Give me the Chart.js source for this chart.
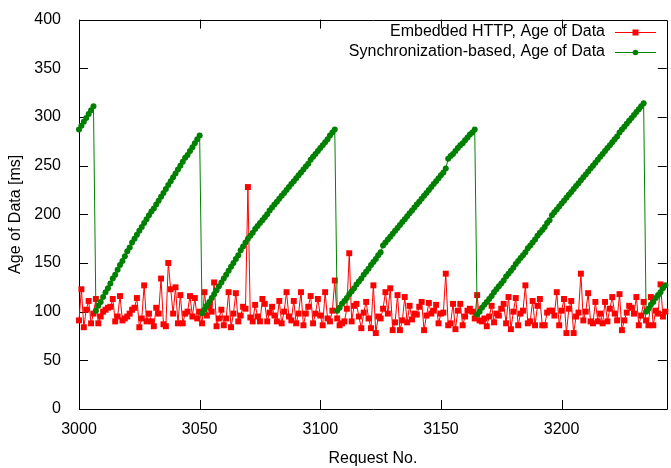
<!DOCTYPE html>
<html>
<head>
<meta charset="utf-8">
<script src="https://cdn.jsdelivr.net/npm/chart.js@4/dist/chart.umd.min.js"></script>
<style>
    html, body { margin: 0; padding: 0; background: #fff; }
    #wrap { width: 671px; height: 468px; }
</style>
</head>
<body>
<div id="wrap"><canvas id="myChart" width="671" height="468"></canvas></div>
<script>
const firstRequest = 3000;
const lastRequest = 3243.6;

const xTicks = [3000, 3050, 3100, 3150, 3200];
const yTicks = [0, 50, 100, 150, 200, 250, 300, 350, 400];

const seriesNames = ['Embedded HTTP, Age of Data', 'Synchronization-based, Age of Data'];

// one value per request, starting at 3000
const embeddedHttp = [
    91, 123, 84, 102, 111, 88, 98, 113, 88, 95, 100, 102, 104, 105, 113, 90, 95, 116, 91, 93,
    95, 98, 102, 104, 114, 84, 93, 127, 90, 98, 90, 85, 104, 98, 134, 87, 85, 150, 123, 98,
    125, 88,
    117, 88, 98, 100, 116, 95, 114, 93, 100, 88, 120, 96, 105, 100, 130, 85, 93, 102, 86, 93,
    120, 84, 98, 119, 90, 96, 105,
    103, 228,
    94, 90, 107, 95, 90, 113, 108, 90, 99, 105, 96, 90,
    111, 88, 100, 120, 95, 91, 111, 88, 98, 120, 86, 98, 105, 116, 88, 98, 113, 96, 86, 120,
    93, 90, 101, 132, 93, 86, 88, 90, 103, 160, 90, 106, 108, 95, 83, 99, 110, 93, 83, 127,
    78, 95, 93, 103, 120,
    98, 124, 81, 89, 117, 81, 91, 115, 89, 106, 92, 98, 97, 105, 110, 81, 96, 109, 98, 101,
    107, 88, 98, 99, 139, 86, 88, 108, 82, 101, 108, 86, 95, 101, 103, 100, 93, 117, 91, 90,
    93, 85, 95,
    106, 89, 98, 96, 103, 108, 88, 115, 82, 100, 114, 86, 98, 101, 127, 88, 90, 111, 86, 106,
    113, 86, 86, 99, 101, 101, 96, 120, 86, 101, 113, 78, 103, 111, 78, 95, 99, 139,
    91, 100, 119, 90, 88, 110, 90, 98, 88, 110, 90, 103, 115, 98, 91, 118, 81, 91, 99, 106,
    104, 98, 115, 86, 96, 110, 91, 86, 115, 86, 101, 98, 128, 95, 100
];

const syncBased = [
    // 3000-3006
    287, 291, 295, 299, 303, 307, 311,
    // 3007-3050
    101, 106, 110, 115, 120, 124, 129, 134, 138, 143, 148, 152, 157, 162, 166, 171,
    175, 179, 183, 187, 191, 195, 199, 203, 206, 210, 214, 218, 222, 226, 230, 234,
    238, 242, 246, 250, 254, 258, 261, 265, 269, 273, 277, 281,
    // 3051-3106
    98, 102, 106, 110, 114, 118, 122, 126, 130, 134, 138, 142, 146, 150, 154,
    158, 163, 167, 171, 175,
    178, 181, 185, 188, 191, 194, 197, 200, 204, 207, 210, 213, 216,
    219, 222, 225, 228, 231, 234, 237, 240,
    243, 246, 249, 252, 256, 259, 262, 265, 268,
    271, 274, 277, 281, 284, 287,
    // 3107-3164
    101, 104, 108, 111, 114, 118, 121, 124, 128, 131, 134, 138, 141, 144, 148, 151, 154, 158, 161,
    168, 171, 174, 177, 180, 183, 186, 189, 192, 195, 198, 201, 204, 207, 210, 213, 216, 219,
    222, 225, 228, 231, 234, 237, 240, 243, 247,
    257, 260, 262, 265, 268, 271, 273, 276, 279, 282, 284, 287,
    // 3165-3234
    97, 100, 104, 107, 110, 113, 116, 120, 123, 126, 129, 132, 136, 139, 142, 145, 149, 152,
    155, 158, 161, 165, 168, 171, 174, 178, 181, 184, 187, 191, 194,
    199, 202, 205, 208, 211, 214, 217, 220, 223, 226, 229, 232, 235, 238, 241, 244, 247, 250,
    253, 256, 259, 262, 265, 268, 271, 274, 277, 280, 284, 287, 290, 293, 296, 299, 302, 305,
    308, 311, 314,
    // 3235-3243
    100, 103, 107, 110, 114, 117, 120, 124, 127
];

const toPoints = arr => arr.map((v, i) => ({ x: firstRequest + i, y: v }));

const fontFamily = '"Liberation Sans", Arial, sans-serif';
Chart.defaults.font.family = fontFamily;
Chart.defaults.font.size = 16;
Chart.defaults.color = '#000';

// gnuplot style border with inward ticks
const framePlugin = {
    id: 'frame',
    beforeDatasetsDraw(chart) {
        const { ctx, chartArea: a, scales } = chart;
        ctx.save();
        ctx.strokeStyle = '#000';
        ctx.lineWidth = 1;
        ctx.beginPath();
        ctx.rect(Math.round(a.left) + 0.5, Math.round(a.top) + 0.5,
            Math.round(a.right - a.left), Math.round(a.bottom - a.top));
        xTicks.forEach(v => {
            const px = Math.round(scales.x.getPixelForValue(v)) + 0.5;
            ctx.moveTo(px, a.bottom); ctx.lineTo(px, a.bottom - 9);
            ctx.moveTo(px, a.top); ctx.lineTo(px, a.top + 9);
        });
        yTicks.forEach(v => {
            const py = Math.round(scales.y.getPixelForValue(v)) + 0.5;
            ctx.moveTo(a.left, py); ctx.lineTo(a.left + 9, py);
            ctx.moveTo(a.right, py); ctx.lineTo(a.right - 9, py);
        });
        ctx.stroke();
        ctx.restore();
    }
};

// legend inside the top right corner, text first then sample
const keyPlugin = {
    id: 'key',
    afterDatasetsDraw(chart) {
        const { ctx } = chart;
        const rows = [
            { y: 32, color: '#ff0000', shape: 'rect' },
            { y: 52, color: '#008000', shape: 'circle' }
        ];
        ctx.save();
        ctx.font = '16px ' + fontFamily;
        ctx.textAlign = 'right';
        ctx.textBaseline = 'middle';
        rows.forEach((r, i) => {
            ctx.fillStyle = '#000';
            ctx.fillText(seriesNames[i], 605, r.y);
            ctx.strokeStyle = r.color;
            ctx.lineWidth = 1;
            ctx.beginPath();
            ctx.moveTo(615, r.y + 0.5);
            ctx.lineTo(656, r.y + 0.5);
            ctx.stroke();
            ctx.fillStyle = r.color;
            ctx.beginPath();
            if (r.shape === 'rect') ctx.rect(632.5, r.y - 2.5, 6, 6);
            else ctx.arc(635.5, r.y + 0.5, 2.8, 0, Math.PI * 2);
            ctx.fill();
        });
        ctx.restore();
    }
};

window.onload = () => {

    const ctx = document.getElementById('myChart');

    const data = {
        datasets: [{
            label: seriesNames[0],
            data: toPoints(embeddedHttp),
            borderColor: '#ff0000',
            backgroundColor: '#ff0000',
            borderWidth: 1,
            pointStyle: 'rect',
            pointRadius: 4.2,
            pointBorderWidth: 0,
            tension: 0,
            clip: false,
            order: 1
        }, {
            label: seriesNames[1],
            data: toPoints(syncBased),
            borderColor: '#008000',
            backgroundColor: '#008000',
            borderWidth: 1,
            pointStyle: 'circle',
            pointRadius: 3,
            pointBorderWidth: 0,
            tension: 0,
            clip: false,
            order: 0
        }]
    };

    new Chart(ctx, {
        type: 'line',
        data: data,
        plugins: [framePlugin, keyPlugin],
        options: {
            responsive: false,
            animation: false,
            events: [],
            layout: { padding: { top: 13, right: 0, left: 0, bottom: 0 } },
            plugins: {
                legend: { display: false },
                tooltip: { enabled: false }
            },
            scales: {
                x: {
                    type: 'linear',
                    min: firstRequest,
                    max: lastRequest,
                    afterBuildTicks: s => { s.ticks = xTicks.map(v => ({ value: v })); },
                    afterFit: s => { s.height = 59; },
                    border: { display: false },
                    grid: { display: false },
                    ticks: { padding: 3, maxRotation: 0, autoSkip: false, callback: v => String(v) },
                    title: { display: true, text: 'Request No.', padding: 0 }
                },
                y: {
                    min: 0,
                    max: 400,
                    afterBuildTicks: s => { s.ticks = yTicks.map(v => ({ value: v })); },
                    afterFit: s => { s.width = 79; },
                    border: { display: false },
                    grid: { display: false },
                    ticks: { padding: 10, callback: v => String(v) },
                    title: { display: true, text: 'Age of Data [ms]', padding: { top: 6, bottom: 0 } }
                }
            }
        }
    });
}
</script>
</body>
</html>
